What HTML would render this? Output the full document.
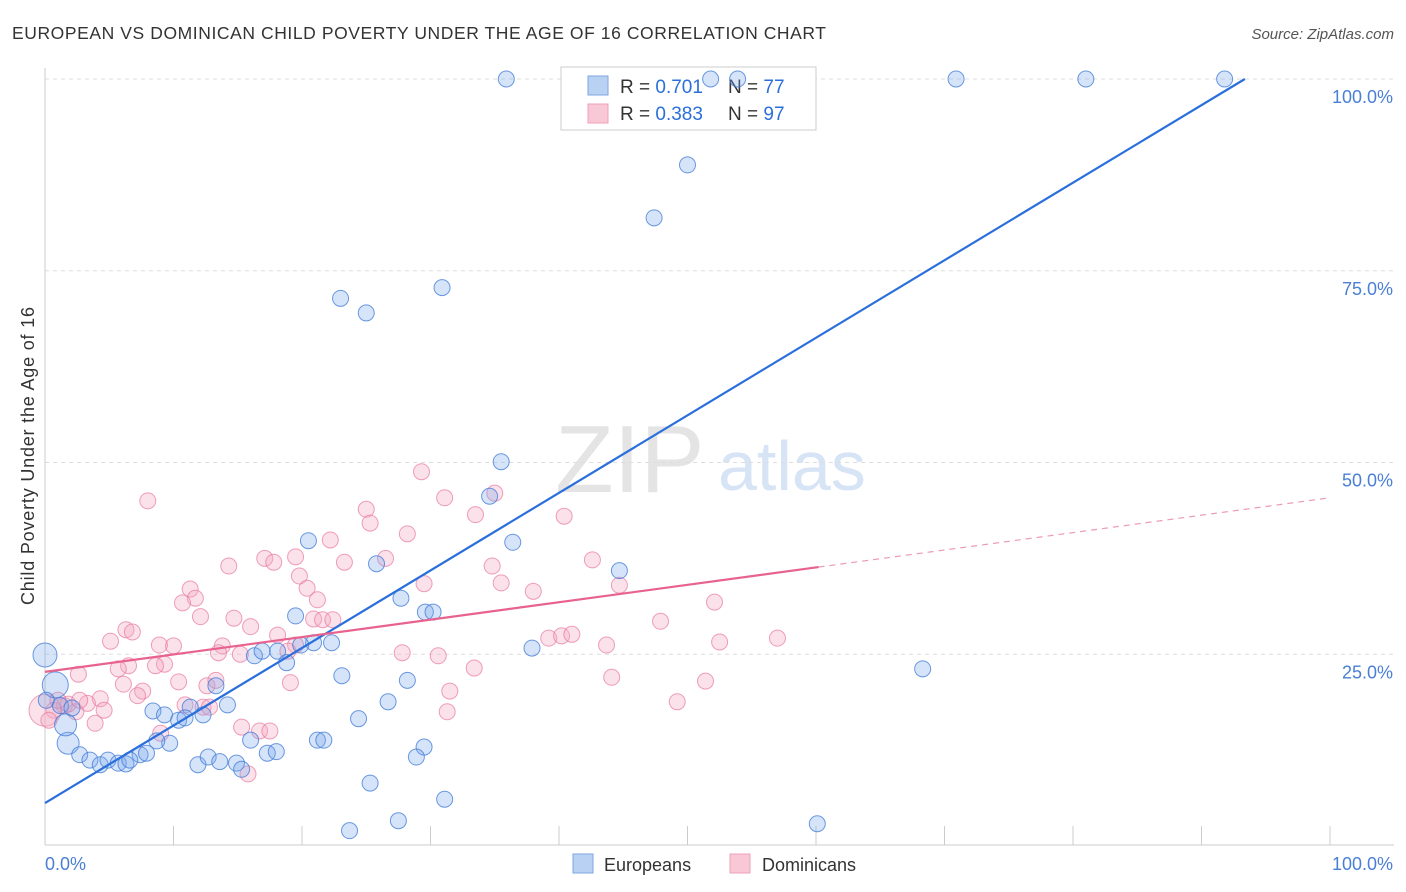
<!DOCTYPE html>
<html><head><meta charset="utf-8"><style>
body{margin:0;background:#fff;font-family:"Liberation Sans",sans-serif;}
#wrap{position:relative;width:1406px;height:892px;overflow:hidden;}
svg text{font-family:"Liberation Sans",sans-serif;}
</style></head><body>
<div id="wrap">
<svg id="chart" width="1406" height="892">
<text x="12" y="39" font-size="17.5" fill="#333" textLength="814" lengthAdjust="spacing">EUROPEAN VS DOMINICAN CHILD POVERTY UNDER THE AGE OF 16 CORRELATION CHART</text>
<text x="1394" y="39" font-size="15" fill="#555" font-style="italic" text-anchor="end">Source: ZipAtlas.com</text>
<text transform="translate(34,456) rotate(-90)" font-size="18" fill="#333" text-anchor="middle" textLength="298" lengthAdjust="spacing">Child Poverty Under the Age of 16</text>
<g>
<text x="555" y="492" font-size="96" fill="#e4e4e4" font-family="Liberation Serif, serif">ZIP</text>
<text x="718" y="490" font-size="70" fill="#d6e4f5">atlas</text>
</g>
<g id="grid"></g>
<g id="axes"></g>
<g>
<rect x="561" y="67" width="255" height="63" fill="#fff" stroke="#ccc"/>
<rect x="588" y="76" width="20" height="19" fill="#b9d1f3" stroke="#7ea6e0"/>
<rect x="588" y="104" width="20" height="19" fill="#f9c8d6" stroke="#eea0b8"/>
<text x="620" y="93" font-size="19" fill="#333">R = <tspan fill="#2a6fdb">0.701</tspan></text>
<text x="728" y="93" font-size="19" fill="#333">N = <tspan fill="#2a6fdb">77</tspan></text>
<text x="620" y="120" font-size="19" fill="#333">R = <tspan fill="#2a6fdb">0.383</tspan></text>
<text x="728" y="120" font-size="19" fill="#333">N = <tspan fill="#2a6fdb">97</tspan></text>
</g>
<g id="marks"></g>
<g id="lines"></g>
<g>
<rect x="573" y="854" width="20" height="19" fill="#b9d1f3" stroke="#7ea6e0"/>
<text x="604" y="871" font-size="18" fill="#333">Europeans</text>
<rect x="730" y="854" width="20" height="19" fill="#f9c8d6" stroke="#eea0b8"/>
<text x="762" y="871" font-size="18" fill="#333">Dominicans</text>
</g>
</svg>
</div>
<script>
const yTicks=[25,50,75,100];
const yTickLabels=["25.0%","50.0%","75.0%","100.0%"];
const xTickLabels=["0.0%","100.0%"];
const euroX=[35.9,51.8,53.9,70.9,81.0,91.8,50.0,47.4,30.9,23.0,25.0,35.5,34.6,36.4,20.5,25.8,44.7,27.7,29.6,30.2,19.5,20.9,22.3,19.9,18.1,16.3,16.9,18.8,37.9,68.3,23.1,13.3,28.2,26.7,0,0.8,14.2,8.4,9.3,11.3,10.4,10.9,12.3,24.4,9.7,8.7,16.0,21.2,21.7,29.5,1.8,2.7,3.5,4.3,4.9,5.7,6.3,7.4,7.9,6.6,11.9,12.7,13.6,14.9,15.3,17.3,18.0,28.9,25.3,31.1,27.5,23.7,60.1,1.6,0.1,1.2,2.1];
const euroY=[100,100,100,100,100,100,88.8,81.9,72.8,71.4,69.5,50.1,45.6,39.6,39.8,36.8,35.9,32.3,30.5,30.5,30.0,26.5,26.5,26.2,25.4,24.8,25.4,23.9,25.8,23.1,22.2,20.9,21.6,18.8,24.9,21.0,18.4,17.6,17.1,18.1,16.4,16.7,17.1,16.6,13.4,13.7,13.8,13.8,13.8,12.9,13.4,11.9,11.2,10.6,11.2,10.8,10.7,11.9,12.1,11.2,10.6,11.6,11.0,10.8,10.0,12.1,12.3,11.6,8.2,6.1,3.3,2.0,2.9,15.8,19.0,18.3,18.0];
const euroSize=[8,8,8,8,8,8,8,8,8,8,8,8,8,8,8,8,8,8,8,8,8,8,8,8,8,8,8,8,8,8,8,8,8,8,12,13,8,8,8,8,8,8,8,8,8,8,8,8,8,8,11,8,8,8,8,8,8,8,8,8,8,8,8,8,8,8,8,8,8,8,8,8,8,11,8,8,8];
const domX=[8.0,29.3,31.1,35.0,25.0,25.3,33.5,40.4,28.2,22.2,14.3,17.1,17.8,19.5,23.3,26.5,34.8,42.6,19.8,20.4,11.3,11.7,10.7,21.2,29.5,35.5,38.0,44.7,52.1,14.7,12.1,20.9,21.6,22.4,47.9,6.3,6.8,5.1,10.0,8.9,13.8,16.0,18.1,19.5,39.2,40.2,41.0,43.7,52.5,57.0,13.5,15.2,9.3,8.6,6.5,5.7,27.8,30.6,33.4,18.9,2.6,44.1,51.4,6.1,10.4,12.6,13.3,19.1,7.6,7.2,31.5,4.3,3.3,1.5,0.7,2.4,1.8,4.6,10.9,12.3,12.8,49.2,31.3,3.9,15.3,16.7,17.5,9.0,15.8,0,1.0,2.7,0.3];
const domY=[45.0,48.8,45.4,46.0,43.9,42.1,43.2,43.0,40.7,39.9,36.5,37.5,37.0,37.7,37.0,37.5,36.5,37.3,35.2,33.6,33.5,32.3,31.7,32.1,34.2,34.3,33.2,34.0,31.8,29.7,29.9,29.6,29.5,29.5,29.3,28.2,27.9,26.7,26.1,26.2,26.1,28.6,27.5,26.2,27.1,27.4,27.6,26.2,26.6,27.1,25.2,25.0,23.7,23.5,23.5,23.1,25.2,24.8,23.2,25.4,22.4,22.0,21.5,21.1,21.4,20.9,21.6,21.3,20.2,19.6,20.2,19.2,18.6,18.3,17.7,17.5,18.5,17.7,18.4,18.1,18.1,18.8,17.5,16.0,15.5,15.0,15.0,14.7,9.4,17.7,19.0,19.0,16.4];
const domSize=domX.map((_,i)=>i===89?16:8);
const euroFit=[5.6,106.7];
const domFit=[22.7,45.4];
const domSolidEnd=60.2;

const NS="http://www.w3.org/2000/svg";
const X0=45,X1=1330,Y0=846,Y100=79;
const sx=v=>X0+(X1-X0)*v/100;
const sy=v=>Y0-(Y0-Y100)*v/100;
function mk(tag,attrs,parent){const e=document.createElementNS(NS,tag);for(const k in attrs)e.setAttribute(k,attrs[k]);parent.appendChild(e);return e;}
const grid=document.getElementById('grid'),axes=document.getElementById('axes'),marks=document.getElementById('marks'),lines=document.getElementById('lines');
yTicks.forEach((t,i)=>{
 const g=mk('line',{x1:X0,x2:1394,y1:sy(t),y2:sy(t),stroke:'#ddd','stroke-dasharray':'4,4'},grid);
 
 
 const l=mk('text',{x:1393,y:sy(t)+24,'font-size':18,fill:'#4a7fd4','text-anchor':'end'},axes);
 l.textContent=yTickLabels[i];
 
 
});
const ax=mk('line',{x1:X0,x2:X0,y1:68,y2:845,stroke:'#ccc'},axes);


const bx=mk('line',{x1:X0,x2:1394,y1:845,y2:845,stroke:'#ccc'},axes);


for(let i=0;i<=10;i++){
 const t=mk('line',{x1:sx(i*10),x2:sx(i*10),y1:826,y2:845,stroke:'#ccc'},axes);
 
 
}
[[0,'start',X0],[100,'end',1393]].forEach((a,i)=>{
 const l=mk('text',{x:a[2],y:870,'font-size':18,fill:'#4a7fd4','text-anchor':a[1]},axes);
 l.textContent=xTickLabels[i];
 
 
});
function pts(xs,ys,ss,fill,stroke,name){
 xs.forEach((x,i)=>{
  const c=mk('circle',{cx:sx(x),cy:sy(ys[i]),r:ss[i],fill:fill,stroke:stroke,'stroke-width':1},marks);
  
  
 });
}
pts(domX,domY,domSize,'rgba(244,170,195,0.35)','rgba(232,120,160,0.7)','dominican-point');
pts(euroX,euroY,euroSize,'rgba(120,165,235,0.3)','rgba(60,120,215,0.75)','european-point');
const xEnd=(100-euroFit[0])/(euroFit[1]-euroFit[0])*100;
const bl=mk('line',{x1:sx(0),y1:sy(euroFit[0]),x2:sx(xEnd),y2:sy(100),stroke:'#2a6fdb','stroke-width':2.2},lines);


const dy=v=>domFit[0]+(domFit[1]-domFit[0])*v/100;
const pl=mk('line',{x1:sx(0),y1:sy(dy(0)),x2:sx(domSolidEnd),y2:sy(dy(domSolidEnd)),stroke:'#e8628f','stroke-width':2.2},lines);


const pd=mk('line',{x1:sx(domSolidEnd),y1:sy(dy(domSolidEnd)),x2:sx(100),y2:sy(dy(100)),stroke:'#ec9ab5','stroke-width':1.2,'stroke-dasharray':'6,5'},lines);


</script>
</body></html>
